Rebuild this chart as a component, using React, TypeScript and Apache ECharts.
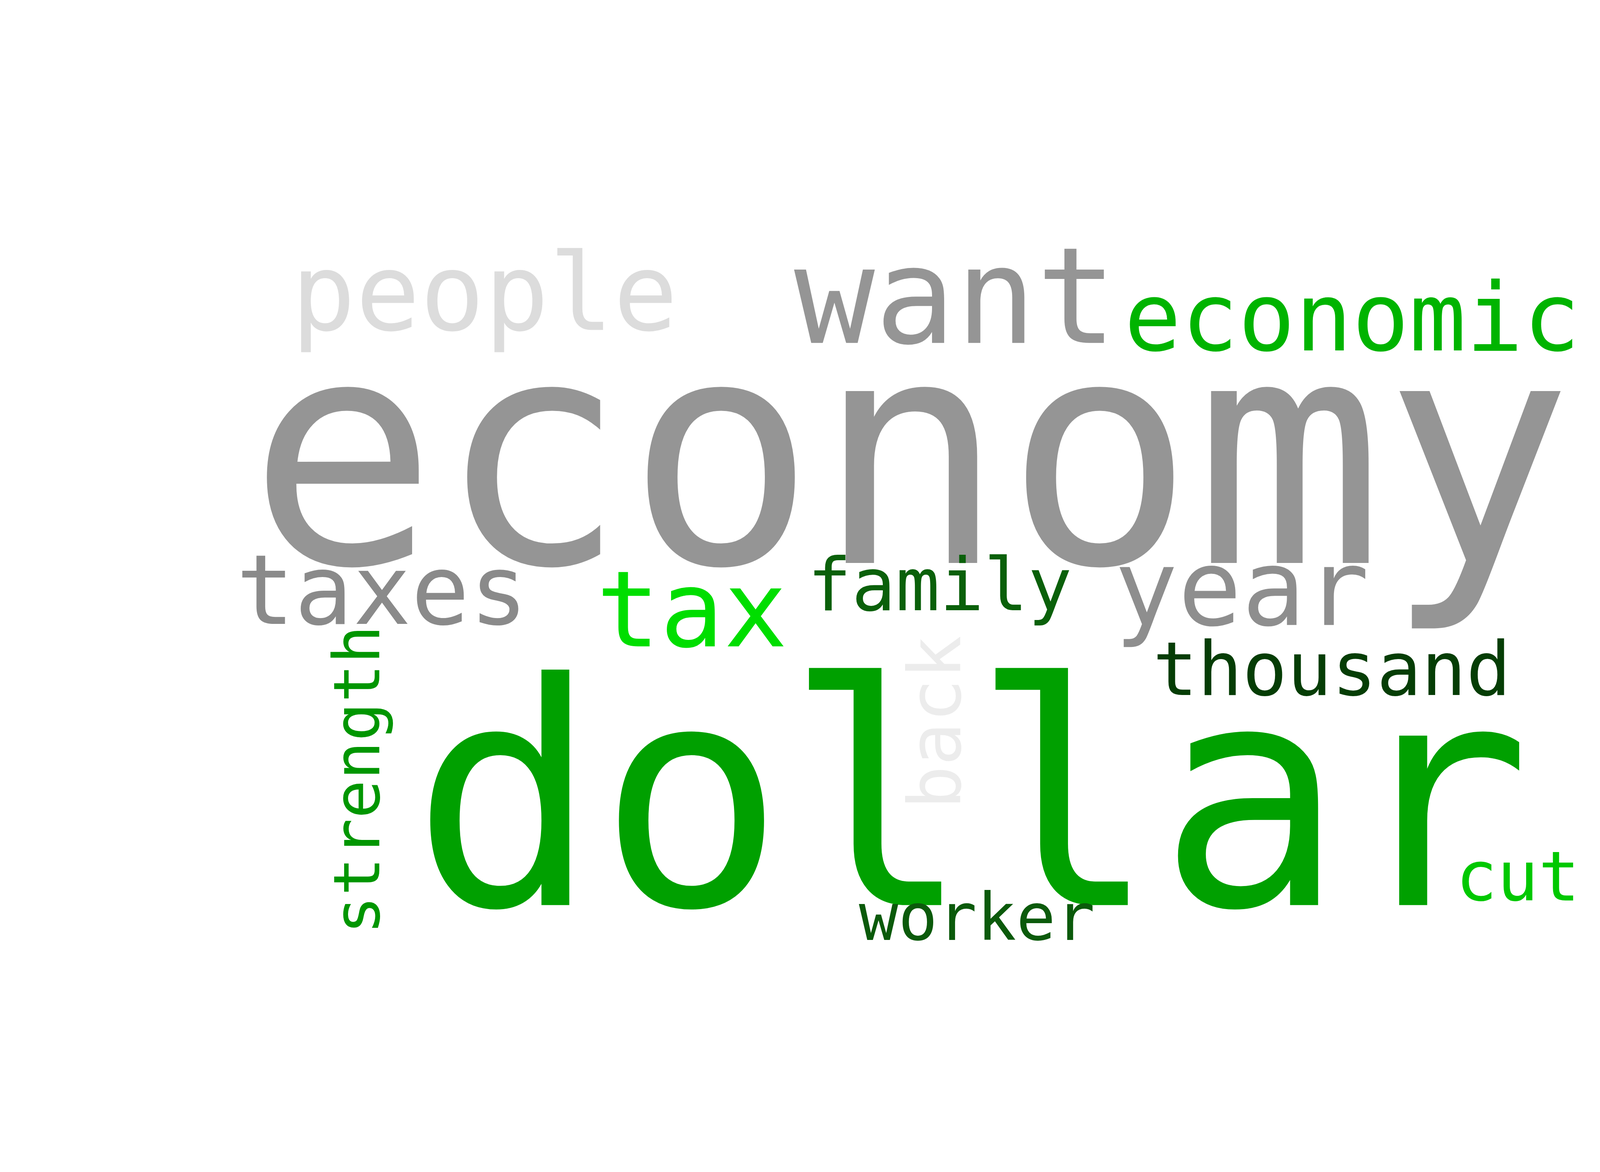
import { useEffect, useRef } from 'react';
import * as echarts from 'echarts';

// word cloud laid out on a 1560 x 1040 plane
const words = ['economy', 'dollar', 'people', 'want', 'economic', 'taxes', 'tax', 'family', 'year', 'thousand', 'back', 'strength', 'cut', 'worker'];
const xPos = [808, 862, 430, 848, 1200, 339, 614, 834, 1102, 1182, 830, 317, 1347, 867];
const yPos = [403, 708, 260, 263, 282, 524, 541, 519, 522, 594, 641, 692, 778, 814];
const weights = [279, 275, 95, 119, 84, 86, 94, 65, 94, 66, 64, 57, 61, 58];
const angles = [0, 0, 0, 0, 0, 0, 0, 0, 0, 0, 90, 90, 0, 0];
const colors = ['#959595', '#00a000', '#dcdcdc', '#959595', '#00b400', '#8a8a8a', '#00de00', '#0a600a', '#8e8e8e', '#053d05', '#ececec', '#009600', '#00c800', '#0b5a0b'];

const SCALE = 4500 / 1560;

export default function App() {
  const ref = useRef<HTMLDivElement | null>(null);

  useEffect(() => {
    document.body.style.margin = '0';
    if (!ref.current) return;
    const chart = echarts.init(ref.current, undefined, { renderer: 'svg' });
    chart.setOption({
      animation: false,
      backgroundColor: '#ffffff',
      grid: { left: 0, right: 0, top: 0, bottom: 0 },
      xAxis: { type: 'value', min: 0, max: 1560, show: false },
      yAxis: { type: 'value', min: 0, max: 1040, inverse: true, show: false },
      series: [
        {
          type: 'scatter',
          symbolSize: 0,
          itemStyle: { opacity: 1 },
          data: words.map((w, i) => ({
            value: [xPos[i], yPos[i]],
            name: w,
            label: {
              show: true,
              position: 'inside',
              formatter: w,
              fontFamily: 'DejaVu Sans Mono',
              fontSize: weights[i] * SCALE,
              color: colors[i],
              opacity: 1,
              rotate: angles[i],
            },
          })),
        },
      ],
    });
    return () => chart.dispose();
  }, []);

  return <div ref={ref} style={{ width: 4500, height: 3000 }} />;
}
